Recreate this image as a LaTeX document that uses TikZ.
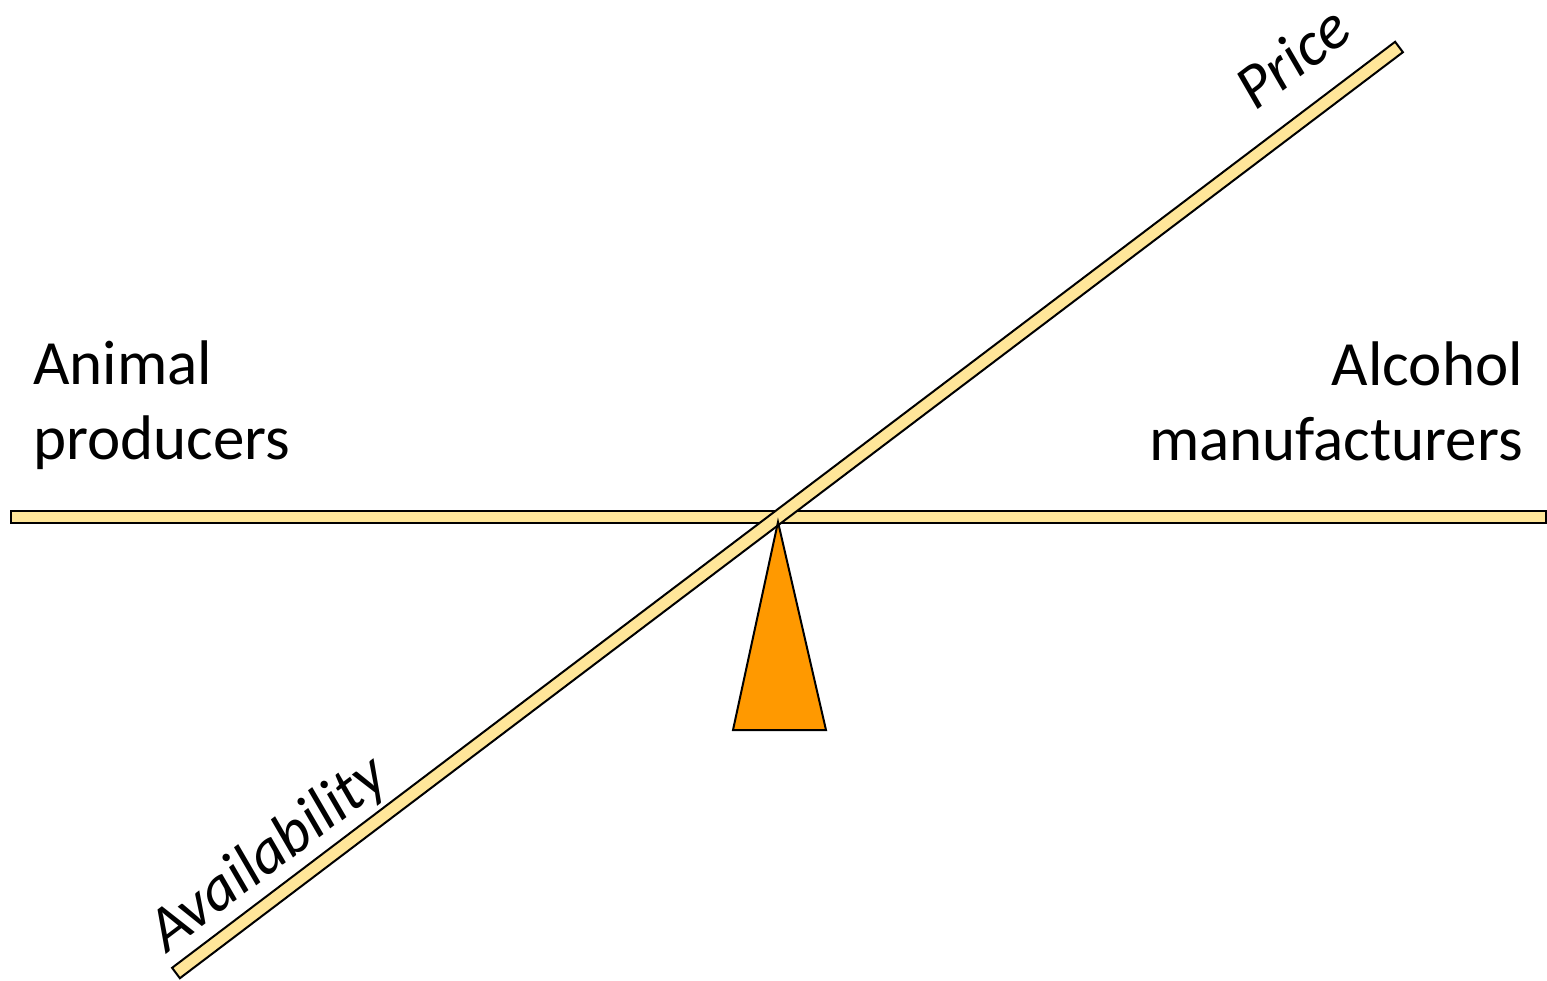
\documentclass[tikz,border=0pt]{standalone}
\usepackage{fontspec}
\setmainfont{Carlito}
\usetikzlibrary{positioning}
\definecolor{plankfill}{HTML}{FFE699}
\definecolor{pivotfill}{HTML}{FF9900}

\begin{document}
\begin{tikzpicture}[x=1pt, y=-1pt,
    plank/.style={draw, fill=plankfill, line width=2pt, line join=miter},
    pivot/.style={draw, fill=pivotfill, line width=2pt, line join=miter},
    side/.style={font=\fontsize{63}{75}\selectfont, inner sep=0pt},
    lever/.style={font=\fontsize{63}{75}\selectfont\itshape, inner sep=0pt, rotate=37.1}]
        \useasboundingbox (0,0) rectangle (1547,980);
        \draw[plank] (11,511) rectangle (1546,523);
        \draw[plank] (172.1,967.8) -- (1395.1,41.8) -- (1402.9,52.2) -- (179.9,978.2) -- cycle;
        \draw[pivot] (778,522) -- (826,730) -- (733,730) -- cycle;
        \node[side, align=left, anchor=base west] (animal) at (33,459) {Animal\\producers};
        \node[side, align=right, anchor=base east] (alcohol) at (1523,460) {Alcohol\\manufacturers};
        \node[lever] (price) at (1292,57) {Price};
        \node[lever] (avail) at (269,855) {Availability};
    \end{tikzpicture}
\end{document}
